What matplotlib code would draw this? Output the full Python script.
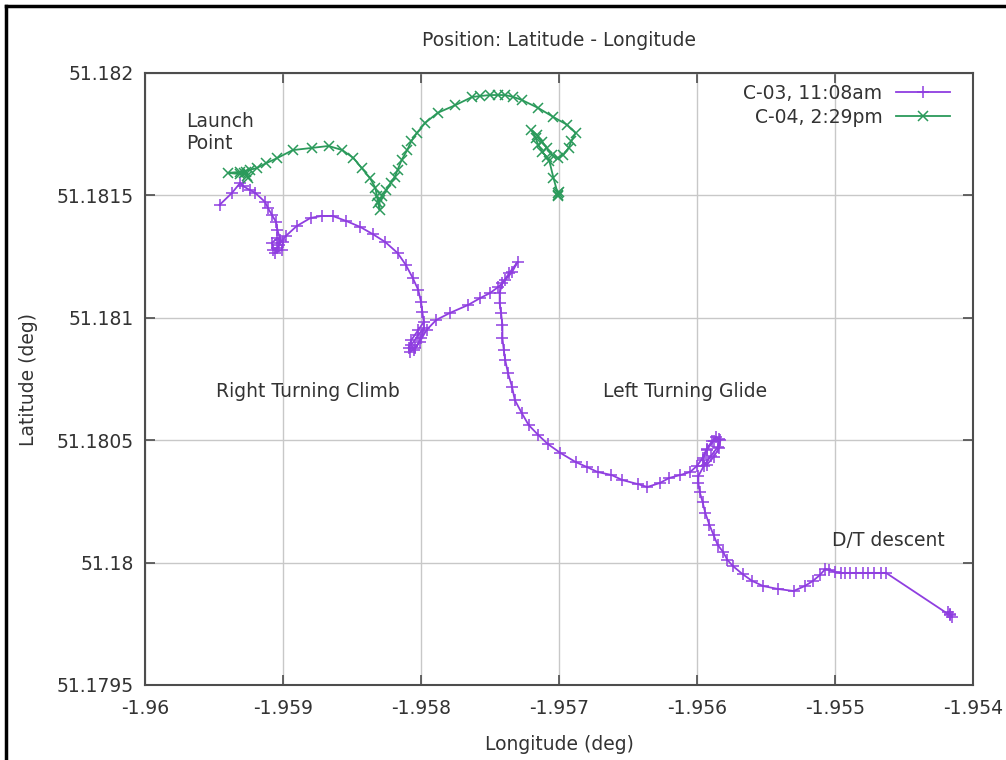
import numpy as np
import matplotlib
matplotlib.use("Agg")
import matplotlib.pyplot as plt
from matplotlib.lines import Line2D

# C-03 track, 11:08am (purple)
c03_lon = [-1.95946, -1.95937, -1.95931, -1.95929, -1.95924, -1.95920, -1.95913, -1.95911,
           -1.95908, -1.95905, -1.95904, -1.95902, -1.95904, -1.95907, -1.95908, -1.95904,
           -1.95900, -1.95901, -1.95906, -1.95903, -1.95898, -1.95890, -1.95880, -1.95872,
           -1.95864, -1.95854, -1.95844, -1.95835, -1.95826, -1.95817, -1.95811, -1.95806,
           -1.95802, -1.95800, -1.95799, -1.95798, -1.95802, -1.95807, -1.95809, -1.95808,
           -1.95804, -1.95800, -1.95798, -1.95802, -1.95807, -1.95805, -1.95801, -1.95796,
           -1.95789, -1.95779, -1.95766, -1.95757, -1.95750, -1.95744, -1.95739, -1.95734,
           -1.95730, -1.95736, -1.95741, -1.95743, -1.95743, -1.95742, -1.95741, -1.95741,
           -1.95740, -1.95739, -1.95737, -1.95734, -1.95732, -1.95727, -1.95722, -1.95715,
           -1.95708, -1.95699, -1.95688, -1.95680, -1.95672, -1.95662, -1.95654, -1.95643,
           -1.95636, -1.95627, -1.95620, -1.95612, -1.95605, -1.95600, -1.95596, -1.95593,
           -1.95589, -1.95586, -1.95583, -1.95584, -1.95588, -1.95593, -1.95596, -1.95593,
           -1.95588, -1.95584, -1.95585, -1.95590, -1.95595, -1.95599, -1.95599, -1.95598,
           -1.95596, -1.95594, -1.95591, -1.95588, -1.95585, -1.95581, -1.95578, -1.95574,
           -1.95567, -1.95560, -1.95552, -1.95541, -1.95530, -1.95522, -1.95516, -1.95511,
           -1.95507, -1.95504, -1.95500, -1.95496, -1.95493, -1.95489, -1.95485, -1.95480,
           -1.95476, -1.95472, -1.95467, -1.95463, -1.95417, -1.95418, -1.95415, -1.95417]
c03_lat = [51.181461, 51.181510, 51.181551, 51.181538, 51.181522, 51.181510, 51.181473, 51.181449,
           51.181420, 51.181391, 51.181359, 51.181318, 51.181285, 51.181277, 51.181306, 51.181326,
           51.181310, 51.181277, 51.181265, 51.181297, 51.181334, 51.181375, 51.181408, 51.181416,
           51.181416, 51.181395, 51.181371, 51.181342, 51.181310, 51.181265, 51.181216, 51.181163,
           51.181114, 51.181065, 51.181024, 51.180983, 51.180950, 51.180909, 51.180877, 51.180860,
           51.180877, 51.180917, 51.180958, 51.180930, 51.180889, 51.180868, 51.180901, 51.180950,
           51.180991, 51.181020, 51.181052, 51.181081, 51.181101, 51.181126, 51.181154, 51.181187,
           51.181228, 51.181183, 51.181142, 51.181101, 51.181060, 51.181020, 51.180971, 51.180917,
           51.180868, 51.180828, 51.180775, 51.180717, 51.180664, 51.180611, 51.180562, 51.180521,
           51.180484, 51.180448, 51.180411, 51.180391, 51.180370, 51.180358, 51.180337, 51.180321,
           51.180309, 51.180325, 51.180346, 51.180358, 51.180370, 51.180395, 51.180427, 51.180464,
           51.180497, 51.180513, 51.180501, 51.180468, 51.180431, 51.180399, 51.180419, 51.180460,
           51.180497, 51.180505, 51.180472, 51.180435, 51.180395, 51.180354, 51.180325, 51.180288,
           51.180248, 51.180203, 51.180154, 51.180113, 51.180072, 51.180043, 51.180011, 51.179986,
           51.179953, 51.179925, 51.179904, 51.179892, 51.179884, 51.179904, 51.179925, 51.179949,
           51.179974, 51.179970, 51.179962, 51.179958, 51.179958, 51.179958, 51.179958, 51.179958,
           51.179958, 51.179958, 51.179958, 51.179958, 51.179786, 51.179798, 51.179778, 51.179790]

# C-04 track, 2:29pm (green)
c04_lon = [-1.95926, -1.95928, -1.95925, -1.95927, -1.95931, -1.95940, -1.95931, -1.95924,
           -1.95919, -1.95912, -1.95904, -1.95893, -1.95879, -1.95867, -1.95857, -1.95849,
           -1.95843, -1.95837, -1.95833, -1.95832, -1.95831, -1.95830, -1.95830, -1.95828,
           -1.95825, -1.95822, -1.95819, -1.95817, -1.95814, -1.95810, -1.95807, -1.95803,
           -1.95797, -1.95788, -1.95775, -1.95763, -1.95757, -1.95750, -1.95744, -1.95739,
           -1.95733, -1.95727, -1.95715, -1.95704, -1.95694, -1.95688, -1.95691, -1.95693,
           -1.95697, -1.95701, -1.95705, -1.95709, -1.95712, -1.95716, -1.95720, -1.95717,
           -1.95715, -1.95712, -1.95709, -1.95707, -1.95704, -1.95701, -1.95701, -1.95700,
           -1.95701]
c04_lat = [51.181579, 51.181592, 51.181571, 51.181596, 51.181587, 51.181592, 51.181596, 51.181604,
           51.181612, 51.181632, 51.181653, 51.181685, 51.181694, 51.181702, 51.181685, 51.181653,
           51.181612, 51.181571, 51.181530, 51.181498, 51.181469, 51.181440, 51.181481, 51.181498,
           51.181522, 51.181551, 51.181575, 51.181604, 51.181645, 51.181685, 51.181722, 51.181755,
           51.181796, 51.181837, 51.181869, 51.181902, 51.181906, 51.181910, 51.181910, 51.181910,
           51.181902, 51.181890, 51.181857, 51.181820, 51.181788, 51.181755, 51.181722, 51.181694,
           51.181665, 51.181653, 51.181665, 51.181694, 51.181718, 51.181747, 51.181767, 51.181734,
           51.181706, 51.181677, 51.181657, 51.181641, 51.181571, 51.181510, 51.181498, 51.181514,
           51.181502]

x_ticks = [-1.96, -1.959, -1.958, -1.957, -1.956, -1.955, -1.954]
y_ticks = [51.1795, 51.18, 51.1805, 51.181, 51.1815, 51.182]

purple = '#8f3ee0'
green = '#2b9a5b'
text_col = '#333333'
fs = 13.5

fig = plt.figure(figsize=(10.06, 7.6), dpi=100)
ax = fig.add_axes([145 / 1006, 1 - 685 / 760, 828 / 1006, 612 / 760])

ax.plot(c03_lon, c03_lat, color=purple, lw=1.3, marker='+', ms=8, mew=1.1,
        label='C-03, 11:08am')
ax.plot(c04_lon, c04_lat, color=green, lw=1.3, marker='x', ms=6.5, mew=1.1,
        label='C-04, 2:29pm')

ax.set_xlim(-1.96, -1.954)
ax.set_ylim(51.1795, 51.182)
ax.set_xticks(x_ticks)
ax.set_xticklabels(['%g' % v for v in x_ticks])
ax.set_yticks(y_ticks)
ax.set_yticklabels(['%g' % v for v in y_ticks])
ax.grid(True, color='#c8c8c8', lw=1.0)
ax.set_axisbelow(True)
ax.tick_params(direction='in', length=7, width=1.2, color='#4d4d4d',
               top=True, right=True, labelsize=fs, labelcolor=text_col)
ax.tick_params(axis='x', pad=10)
ax.tick_params(axis='y', pad=8)
for sp in ax.spines.values():
    sp.set_color('#4d4d4d')
    sp.set_linewidth(1.5)

leg = ax.legend(loc='upper right', bbox_to_anchor=(1 - 8 / 828, 1 + 4 / 612),
                markerfirst=False, frameon=False, fontsize=fs,
                handlelength=2.9, handletextpad=0.7, labelspacing=0.25,
                borderaxespad=0.4)
for t in leg.get_texts():
    t.set_color(text_col)

ax.text(-1.95970, 51.181755, 'Launch\nPoint', ha='left', va='center',
        fontsize=fs, color=text_col, linespacing=1.2)
ax.text(-1.95882, 51.180697, 'Right Turning Climb', ha='center', va='center',
        fontsize=fs, color=text_col)
ax.text(-1.95609, 51.180697, 'Left Turning Glide', ha='center', va='center',
        fontsize=fs, color=text_col)
ax.text(-1.95461, 51.180092, 'D/T descent', ha='center', va='center',
        fontsize=fs, color=text_col)

fig.text(559 / 1006, 1 - 40 / 760, 'Position: Latitude - Longitude', ha='center',
         va='center', fontsize=fs, color=text_col)
fig.text(559 / 1006, 1 - 745 / 760, 'Longitude (deg)', ha='center', va='center',
         fontsize=fs, color=text_col)
fig.text(28 / 1006, 1 - 380 / 760, 'Latitude (deg)', ha='center', va='center',
         rotation=90, fontsize=fs, color=text_col)

# black frame around the screenshot (left and top edges)
fig.add_artist(Line2D([5.5 / 1006, 5.5 / 1006], [0, 1 - 5.5 / 760], color='black', lw=2.5,
                      transform=fig.transFigure))
fig.add_artist(Line2D([5.5 / 1006, 1], [1 - 5.5 / 760, 1 - 5.5 / 760], color='black', lw=2.5,
                      transform=fig.transFigure))

fig.savefig('out.png', dpi=100)
